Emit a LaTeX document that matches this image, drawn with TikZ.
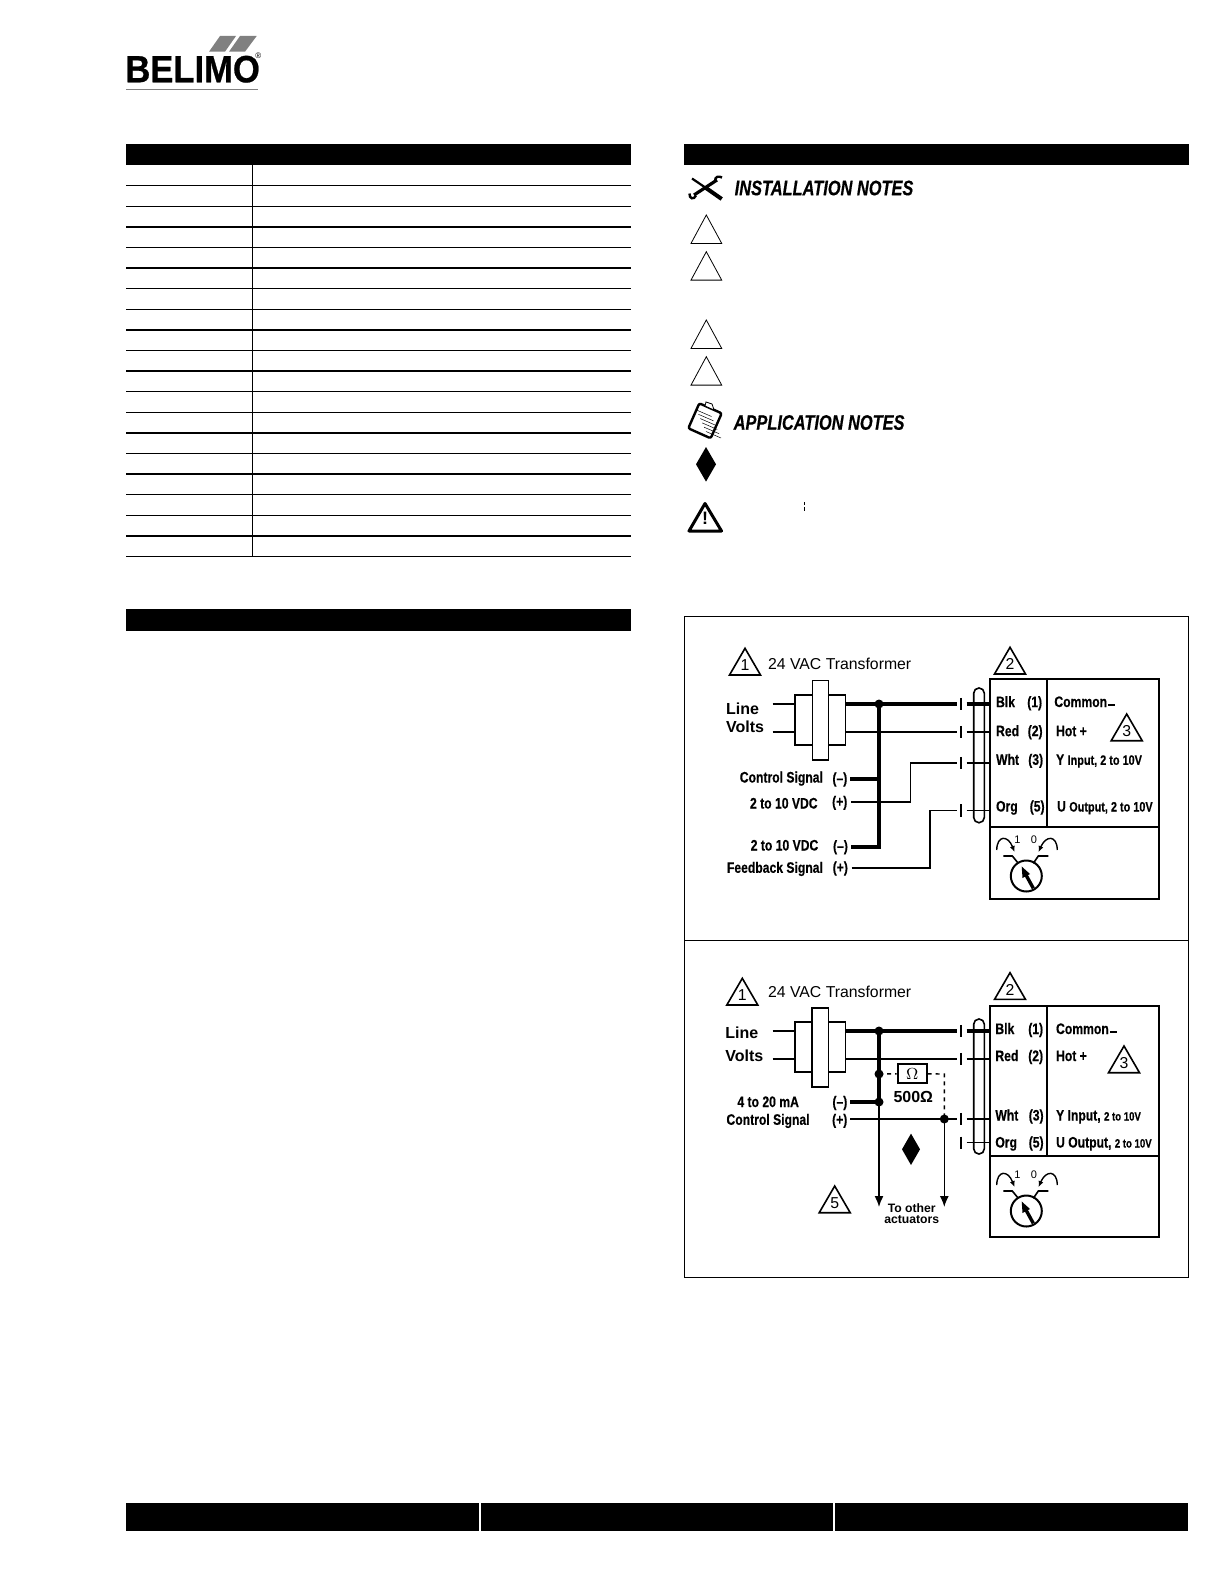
\documentclass[tikz,border=0pt]{standalone}
\usepackage{fontspec}
\setmainfont{Liberation Sans}
\newfontfamily\narrowfont[FakeStretch=0.8,FakeBold=0.4,UprightFont=* Bold]{Liberation Sans}
\newfontfamily\notefont[FakeStretch=0.78,FakeBold=0.5,UprightFont=* Bold Italic]{Liberation Sans}
\newfontfamily\logofont[FakeStretch=0.91,FakeBold=0.6,UprightFont=* Bold]{Liberation Sans}
\usetikzlibrary{arrows.meta}

\tikzset{
  wire/.style={line width=0.75pt},
  heavy/.style={line width=2pt},
  outline/.style={line width=1pt},
  dashwire/.style={line width=0.7pt,dash pattern=on 2pt off 2pt},
  tri/.style={line width=0.8pt,line join=miter},
  dot/.style={circle,fill=black,inner sep=0pt,minimum size=4.5pt},
  flow/.style={-{Latex[length=5.5pt,width=4.5pt]}},
  turn/.style={-{Latex[length=3pt,width=2.6pt]}},
  lbl/.style={inner sep=0pt,text height=5.5pt,text depth=0pt,font=\narrowfont\fontsize{7.6}{8}\selectfont},
  big/.style={inner sep=0pt,text height=5.5pt,text depth=0pt,font=\bfseries\fontsize{8}{9}\selectfont},
  plain/.style={inner sep=0pt,text height=5.5pt,text depth=0pt,font=\fontsize{7.9}{9}\selectfont}
}
\newcommand{\marktri}[4]{% name, apex x, apex y, digit
  \draw[tri] (#2,#3) -- (#2-15.5,#3+26.7) -- (#2+15.5,#3+26.7) -- cycle;
  \node[plain] (#1) at (#2,#3+17) {#4};
}
\newcommand{\smalltxt}[1]{{\fontsize{6}{7}\selectfont #1}}
\newcommand{\midtxt}[1]{{\fontsize{6.8}{7}\selectfont #1}}

\begin{document}
\begin{tikzpicture}[x=0.5pt,y=-0.5pt]
\useasboundingbox (0,0) rectangle (1224,1584);

% logo
\fill[black!50] (220,36) -- (236,36) -- (225,51.7) -- (209,51.7) -- cycle;
\fill[black!50] (240,36) -- (256.7,36) -- (245,51.7) -- (229,51.7) -- cycle;
\node[anchor=base west,inner sep=0pt,font=\logofont\fontsize{19}{20}\selectfont] (logo) at (125,82.3) {BELIMO};
\node[inner sep=0pt,font=\fontsize{4}{4}\selectfont] (reg) at (258.3,56) {®};
\draw[black!50,line width=0.5pt] (126,89.3) -- (258,89.3);

% left table
\fill (126,144) rectangle (631,165);
\foreach \i in {1,...,19}
  \draw[line width=0.7pt] (126,165+20.6*\i) -- (631,165+20.6*\i);
\draw[line width=0.7pt] (252.3,165) -- (252.3,556.4);
\fill (126,609.3) rectangle (631,630.7);

% right column
\fill (684.3,144) rectangle (1189,165);
\node[anchor=west,inner sep=0pt,font=\notefont\fontsize{10.5}{12}\selectfont] (instnotes) at (734.3,188) {INSTALLATION NOTES};
\node[anchor=west,inner sep=0pt,font=\notefont\fontsize{10.5}{12}\selectfont] (appnotes) at (733.3,422.5) {APPLICATION NOTES};

% wrench and screwdriver
\draw[line width=1.1pt] (692,178.5) -- (706,188);
\draw[line width=2pt] (706,188) -- (721.7,199);
\draw[line width=1.6pt] (694,195) -- (717,180);
\draw[line width=1.2pt] (689.5,193.5) .. controls (689,199) and (694,200) .. (696,195.5);
\draw[line width=1.2pt] (715,181) .. controls (715,176) and (719,176) .. (722,177.5);

% empty note triangles
\foreach \y in {215,251.7,320,356.7}
  \draw[line width=0.4pt] (706.3,\y) -- (691,\y+28.4) -- (721.7,\y+28.4) -- cycle;

% clipboard
\draw[line width=1.2pt,rounded corners=1pt] (699.3,403.3) -- (721.7,413.3) -- (710.7,438.3) -- (688.3,428.3) -- cycle;
\fill[white,draw=black,line width=0.4pt] (706,402) -- (712,404) -- (714,410) -- (705,406) -- cycle;
\foreach \i in {0,...,5}
  \draw[line width=0.25pt] (698.5+\i*1.9,410.5+\i*4.3-0.5) ++(-2,0) -- ++(15,6.5);

\fill (706,447) -- (716,464.3) -- (706,481.6) -- (696,464.3) -- cycle;
\draw[line width=0.3pt] (804.3,502) -- (804.3,505) (804.3,507) -- (804.3,510.5);

% warning sign
\draw[line width=1.5pt,line join=round] (705,503.5) -- (689,531) -- (721.5,531) -- cycle;
\node[inner sep=0pt,font=\bfseries\fontsize{9}{10}\selectfont] (warn) at (705,518.5) {!};

% frames of both wiring panels
\draw[line width=0.5pt] (684.7,616) rectangle (1188.5,1277);
\draw[line width=0.5pt] (684.7,940.5) -- (1188.5,940.5);

% footer
\fill (126,1503) rectangle (479,1531);
\fill (481,1503) rectangle (833,1531);
\fill (835,1503) rectangle (1188,1531);

% panel one: transformer
\marktri{aone}{745}{648.3}{1}
\node[plain,anchor=west] (axfmr) at (767.7,664.3) {24 VAC Transformer};
\draw[line width=0.8pt] (794.7,694.7) rectangle (845.3,745);
\draw[line width=0.8pt,fill=white] (812.3,680.3) rectangle (828.3,760);
\node[big,anchor=west] (aline) at (725.7,708.7) {Line};
\node[big,anchor=west] (avolts) at (725.7,726.7) {Volts};

\coordinate (ain1) at (772.7,704);   \coordinate (ain1e) at (794.7,704);
\coordinate (ain2) at (772.7,732);   \coordinate (ain2e) at (794.7,732);
\coordinate (aout1) at (845.3,704);  \coordinate (atk1) at (957,704);
\coordinate (aout2) at (845.3,732);  \coordinate (atk2) at (957,732);
\coordinate (ajoin) at (879,704);    \coordinate (ajoinb) at (879,846.7);
\coordinate (ajoinc) at (879,779);
\coordinate (acm) at (850,779);      \coordinate (afm) at (851,846.7);
\coordinate (acp) at (851,802);      \coordinate (acpa) at (910.7,802);
\coordinate (acpb) at (910.7,763);   \coordinate (atk3) at (957,763);
\coordinate (afp) at (851.7,868);    \coordinate (afpa) at (930,868);
\coordinate (afpb) at (930,810.3);   \coordinate (atk4) at (957,810.3);
\draw[wire] (ain1) -- (ain1e);
\draw[wire] (ain2) -- (ain2e);
\draw[heavy] (aout1) -- (atk1);
\draw[wire] (aout2) -- (atk2);
\draw[heavy,line join=miter] (ajoin) -- (ajoinb) -- (afm);
\draw[heavy] (acm) -- (ajoinc);
\draw[wire] (acp) -- (acpa) -- (acpb) -- (atk3);
\draw[wire] (afp) -- (afpa) -- (afpb) -- (atk4);
\node[dot] (adot) at (ajoin) {};

% panel one: plug
\foreach \n/\y in {1/704,2/732,3/763,4/810.3} {
  \coordinate (apa\n) at (961.3,\y);
  \coordinate (apb\n) at (966.7,\y);
  \coordinate (apc\n) at (990,\y);
  \draw[line width=1pt] (961.3,\y-6.2) -- (961.3,\y+6.2);
}
\draw[heavy] (apb1) -- (apc1);
\foreach \n in {2,3,4}
  \draw[wire] (apb\n) -- (apc\n);
\draw[line width=0.8pt,rounded corners=2.6pt] (973.7,688) rectangle (984.3,822.7);

% panel one: actuator
\marktri{atwo}{1010}{647.3}{2}
\draw[outline] (990,679.3) rectangle (1158.7,898.7);
\draw[outline] (990,827) -- (1158.7,827);
\draw[outline] (1046.7,679.3) -- (1046.7,827);
\node[lbl,anchor=west] (ablk) at (995.7,701.7) {Blk};
\node[lbl,anchor=west] (ared) at (995.7,730.7) {Red};
\node[lbl,anchor=west] (awht) at (995.7,759.3) {Wht};
\node[lbl,anchor=west] (aorg) at (995.7,806) {Org};
\node[lbl,anchor=east] (atone) at (1042.5,701.7) {(1)};
\node[lbl,anchor=east] (attwo) at (1043,730.7) {(2)};
\node[lbl,anchor=east] (atthree) at (1043.5,759.3) {(3)};
\node[lbl,anchor=east] (atfive) at (1045,806) {(5)};
\node[lbl,anchor=west] (acom) at (1054,701.5) {Common};
\draw[line width=0.9pt] (1108,704.7) -- (1115,704.7);
\node[lbl,anchor=west] (ahot) at (1055.7,730.7) {Hot +};
\marktri{athree}{1126.7}{714}{3}
\node[lbl,anchor=west] (ay) at (1055.7,759.3) {Y \midtxt{Input, 2 to 10V}};
\node[lbl,anchor=west] (au) at (1056.7,806) {U \midtxt{Output, 2 to 10V}};

% panel one: signal labels
\node[lbl,anchor=east] (actl) at (823.3,777) {Control Signal};
\node[lbl,anchor=east] (avdc) at (818,803) {2 to 10 VDC};
\node[lbl,anchor=east] (avdcb) at (818.7,845) {2 to 10 VDC};
\node[lbl,anchor=east] (afb) at (823.3,867.3) {Feedback Signal};
\node[lbl,anchor=east] (acmi) at (847.7,778) {(–)};
\node[lbl,anchor=east] (acpl) at (847.7,801.3) {(+)};
\node[lbl,anchor=east] (afmi) at (848.3,845.7) {(–)};
\node[lbl,anchor=east] (afpl) at (848.3,867) {(+)};

% panel two: transformer
\marktri{bone}{742.3}{978.3}{1}
\node[plain,anchor=west] (bxfmr) at (767.7,991.7) {24 VAC Transformer};
\draw[line width=0.8pt] (794.7,1021.7) rectangle (845.3,1072);
\draw[line width=0.8pt,fill=white] (811.7,1007.7) rectangle (828.3,1087);
\node[big,anchor=west] (bline) at (725,1032.7) {Line};
\node[big,anchor=west] (bvolts) at (725,1055.7) {Volts};

\coordinate (bin1) at (772.7,1031);  \coordinate (bin1e) at (794.7,1031);
\coordinate (bin2) at (772.7,1059);  \coordinate (bin2e) at (794.7,1059);
\coordinate (bout1) at (845.3,1031); \coordinate (btk1) at (957,1031);
\coordinate (bout2) at (845.3,1059); \coordinate (btk2) at (957,1059);
\coordinate (bcm) at (850,1102);     \coordinate (bcp) at (850,1119);
\coordinate (btk3) at (957,1119);
\coordinate (bdash) at (944.3,1074); \coordinate (bdown) at (879,1207);
\coordinate (bdownb) at (944.3,1207);
\node[dot] (bjoin) at (879,1031) {};
\node[dot] (bjoinb) at (879,1074) {};
\node[dot] (bjoinc) at (879,1102) {};
\node[dot] (bjoind) at (944.3,1119) {};
\node[draw,line width=1pt,minimum width=14.5pt,minimum height=9.6pt,inner sep=0pt,font=\fontsize{8}{9}\selectfont] (bres) at (912.2,1073.7) {$\Omega$};
\draw[wire] (bin1) -- (bin1e);
\draw[wire] (bin2) -- (bin2e);
\draw[heavy] (bout1) -- (btk1);
\draw[wire] (bout2) -- (btk2);
\draw[heavy] (bjoin.center) -- (bjoinc.center);
\draw[heavy] (bcm) -- (bjoinc.center);
\draw[wire] (bcp) -- (btk3);
\draw[wire,flow] (bjoinc.center) -- (bdown);
\draw[wire,flow] (bjoind.center) -- (bdownb);
\draw[dashwire] (bjoinb.center) -- (bres);
\draw[dashwire] (bres) -- (bdash) -- (bjoind.center);
\node[big,anchor=center] (bohm) at (913.3,1096.7) {500Ω};
\fill (911,1133.6) -- (920,1149.3) -- (911,1165) -- (902,1149.3) -- cycle;
\marktri{bfive}{834.7}{1186}{5}
\node[inner sep=0pt,font=\bfseries\fontsize{6.1}{5.4}\selectfont,align=center] (bto) at (911.7,1213.7) {To other\\actuators};

% panel two: plug
\foreach \n/\y in {1/1031,2/1059,3/1119,4/1142.7} {
  \coordinate (bpa\n) at (961.3,\y);
  \coordinate (bpb\n) at (966.7,\y);
  \coordinate (bpc\n) at (990,\y);
  \draw[line width=1pt] (961.3,\y-6.2) -- (961.3,\y+6.2);
}
\draw[heavy] (bpb1) -- (bpc1);
\foreach \n in {2,3,4}
  \draw[wire] (bpb\n) -- (bpc\n);
\draw[line width=0.8pt,rounded corners=2.6pt] (973.7,1019) rectangle (984.3,1154);

% panel two: actuator
\marktri{btwo}{1010}{972.7}{2}
\draw[outline] (990,1006.3) rectangle (1158.7,1237);
\draw[outline] (990,1155.7) -- (1158.7,1155.7);
\draw[outline] (1046.7,1006.3) -- (1046.7,1155.7);
\node[lbl,anchor=west] (bblk) at (995,1028.5) {Blk};
\node[lbl,anchor=west] (bred) at (995,1055.5) {Red};
\node[lbl,anchor=west] (bwht) at (995,1115) {Wht};
\node[lbl,anchor=west] (borg) at (995,1142) {Org};
\node[lbl,anchor=east] (btone) at (1043.5,1028.5) {(1)};
\node[lbl,anchor=east] (bttwo) at (1043.5,1055.5) {(2)};
\node[lbl,anchor=east] (btthree) at (1044,1115) {(3)};
\node[lbl,anchor=east] (btfive) at (1044,1142) {(5)};
\node[lbl,anchor=west] (bcom) at (1055.7,1028.5) {Common};
\draw[line width=0.9pt] (1110,1031.7) -- (1116.7,1031.7);
\node[lbl,anchor=west] (bhot) at (1055.7,1055.5) {Hot +};
\marktri{bthree}{1124}{1046}{3}
\node[lbl,anchor=west] (by) at (1055.7,1115) {Y Input, \smalltxt{2 to 10V}};
\node[lbl,anchor=west] (bu) at (1055.7,1142) {U Output, \smalltxt{2 to 10V}};

% panel two: signal labels
\node[lbl,anchor=east] (bma) at (799.3,1101.5) {4 to 20 mA};
\node[lbl,anchor=east] (bctl) at (810,1119.3) {Control Signal};
\node[lbl,anchor=east] (bcmi) at (847.7,1101.5) {(–)};
\node[lbl,anchor=east] (bcpl) at (847.7,1119.3) {(+)};

% rotary switch, same in both panels
\foreach \dy/\nm in {0/a,335/b} {
  \begin{scope}[shift={(0,\dy)}]
    \node[draw,circle,line width=1pt,minimum size=15.5pt,inner sep=0pt] (\nm sw) at (1026.3,876) {};
    \draw[line width=0.8pt] (1003.3,856) -- (1012.3,856) -- (1018.3,863.3);
    \draw[line width=0.8pt] (1048.3,856) -- (1038.3,856) -- (1033.3,863.3);
    \draw[line width=1.7pt] (1033.3,888.3) -- (1026,875);
    \fill (1021.7,866.5) -- (1030,874) -- (1022.5,878) -- cycle;
    \draw[line width=0.7pt,turn] (996.7,850) .. controls (997,835) and (1008,835) .. (1014.5,852);
    \draw[line width=0.7pt,turn] (1057.3,850) .. controls (1057,835) and (1046,835) .. (1038.5,852);
    \node[inner sep=0pt,font=\fontsize{5.5}{6}\selectfont] (\nm one) at (1017.5,839.5) {1};
    \node[inner sep=0pt,font=\fontsize{5.5}{6}\selectfont] (\nm zero) at (1034,839.5) {0};
  \end{scope}
}

\end{tikzpicture}
\end{document}
